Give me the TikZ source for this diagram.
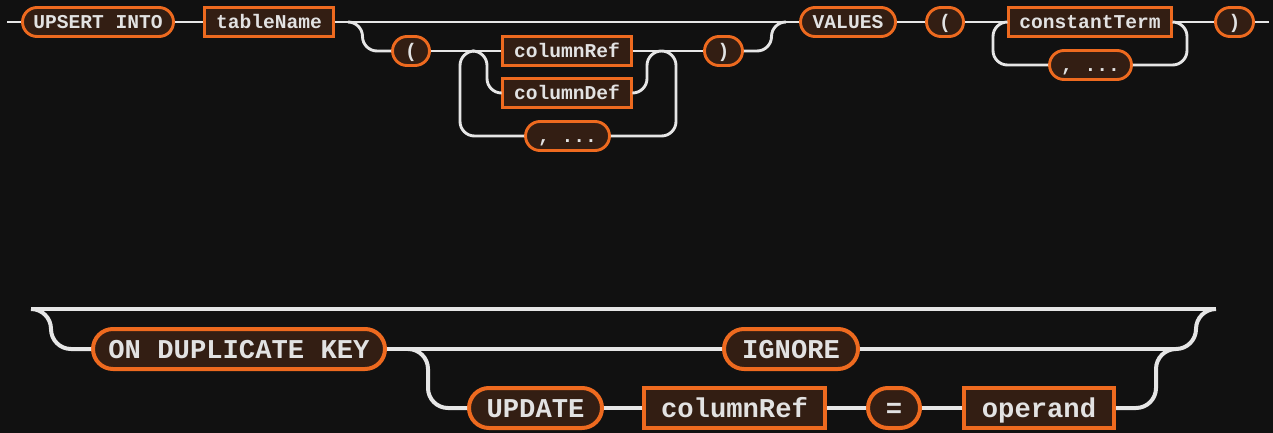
\documentclass[tikz,border=0pt]{standalone}
\usepackage{fontspec}
\setmonofont{Liberation Mono}
\definecolor{bg}{HTML}{111111}
\definecolor{boxfill}{HTML}{331E13}
\definecolor{boxline}{HTML}{EE6A1F}
\definecolor{railc}{HTML}{E6E6E6}
\definecolor{txt}{HTML}{E2E2E2}
\tikzset{
  box/.style={draw=boxline, fill=boxfill, text=txt, inner sep=0pt, anchor=center},
  small/.style={box, font=\ttfamily\bfseries\fontsize{19.6}{20}\selectfont,
    minimum height=29pt, line width=2.9pt, text height=13pt, text depth=0pt},
  big/.style={box, font=\ttfamily\bfseries\fontsize{27.2}{28}\selectfont,
    minimum height=40pt, line width=4pt, text height=18pt, text depth=0pt},
  sterm/.style={small, rounded corners=14.5pt},
  snon/.style={small},
  bterm/.style={big, rounded corners=20pt},
  bnon/.style={big},
  srail/.style={draw=railc, line width=2.9pt, rounded corners=14.5pt},
  brail/.style={draw=railc, line width=4pt, rounded corners=20pt},
}
\begin{document}
\begin{tikzpicture}[x=1pt,y=-1pt]
\fill[bg] (0,0) rectangle (1273,433);
\useasboundingbox (0,0) rectangle (1273,433);

% ---------- top row ----------
\coordinate (s0) at (7,22);
\coordinate (e0) at (1269,22);
\coordinate (b1) at (348,22);
\coordinate (b2) at (786,22);
\node[sterm, minimum width=151pt] (upsert) at (98,22) {UPSERT INTO};
\node[snon, minimum width=129pt] (tname) at (269,22) {tableName};
\node[sterm, minimum width=37pt] (lp1) at (411,51) {(};
\node[snon, minimum width=129pt] (cref) at (567,51) {columnRef};
\node[snon, minimum width=129pt] (cdef) at (567,93) {columnDef};
\node[sterm, minimum width=84pt] (com1) at (567.5,136) {, ...};
\node[sterm, minimum width=38pt] (rp1) at (723.5,51) {)};
\node[sterm, minimum width=95pt] (vals) at (848,22) {VALUES};
\node[sterm, minimum width=37pt] (lp2) at (945,22) {(};
\node[snon, minimum width=163pt] (cterm) at (1090,22) {constantTerm};
\node[sterm, minimum width=82pt] (com2) at (1090.5,65) {, ...};
\node[sterm, minimum width=38pt] (rp2) at (1234.5,22) {)};

\path[srail] (s0) -- (upsert.west);
\path[srail] (upsert.east) -- (tname.west);
\path[srail] (tname.east) -- (vals.west);
\path[srail] (b1) -- (362.5,22) -- (362.5,51) -- (lp1.west);
\path[srail] (lp1.east) -- (cref.west);
\path[srail] (473,51) -- (487,51) -- (487,93) -- (cdef.west);
\path[srail] (474.5,51) -- (460,51) -- (460,136) -- (com1.west);
\path[srail] (cref.east) -- (rp1.west);
\path[srail] (cdef.east) -- (647,93) -- (647,51) -- (661,51);
\path[srail] (661.5,51) -- (676,51) -- (676,136) -- (com1.east);
\path[srail] (rp1.east) -- (771.5,51) -- (771.5,22) -- (b2);
\path[srail] (vals.east) -- (lp2.west);
\path[srail] (lp2.east) -- (cterm.west);
\path[srail] (1007.5,22) -- (993,22) -- (993,65) -- (com2.west);
\path[srail] (cterm.east) -- (rp2.west);
\path[srail] (1172.5,22) -- (1187,22) -- (1187,65) -- (com2.east);
\path[srail] (rp2.east) -- (e0);

% ---------- bottom row ----------
\coordinate (s1) at (31,309);
\coordinate (e1) at (1216,309);
\coordinate (m1) at (1176,349);
\coordinate (j1) at (408,349);
\node[bterm, minimum width=292pt] (ondup) at (239,349) {ON DUPLICATE KEY};
\node[bterm, minimum width=134pt] (ign) at (791,349) {IGNORE};
\node[bterm, minimum width=133pt] (upd) at (535.5,408) {UPDATE};
\node[bnon, minimum width=181pt] (cref2) at (734.5,408) {columnRef};
\node[bterm, minimum width=52pt] (eq) at (894,408) {=};
\node[bnon, minimum width=150pt] (opd) at (1039,408) {operand};

\path[brail] (s1) -- (e1);
\path[brail] (s1) -- (51,309) -- (51,349) -- (ondup.west);
\path[brail] (ondup.east) -- (ign.west);
\path[brail] (ign.east) -- (m1);
\path[brail] (j1) -- (428,349) -- (428,408) -- (upd.west);
\path[brail] (upd.east) -- (cref2.west);
\path[brail] (cref2.east) -- (eq.west);
\path[brail] (eq.east) -- (opd.west);
\path[brail] (opd.east) -- (1156,408) -- (1156,349) -- (m1);
\path[brail] (m1) -- (1196,349) -- (1196,309) -- (e1);
\end{tikzpicture}
\end{document}
